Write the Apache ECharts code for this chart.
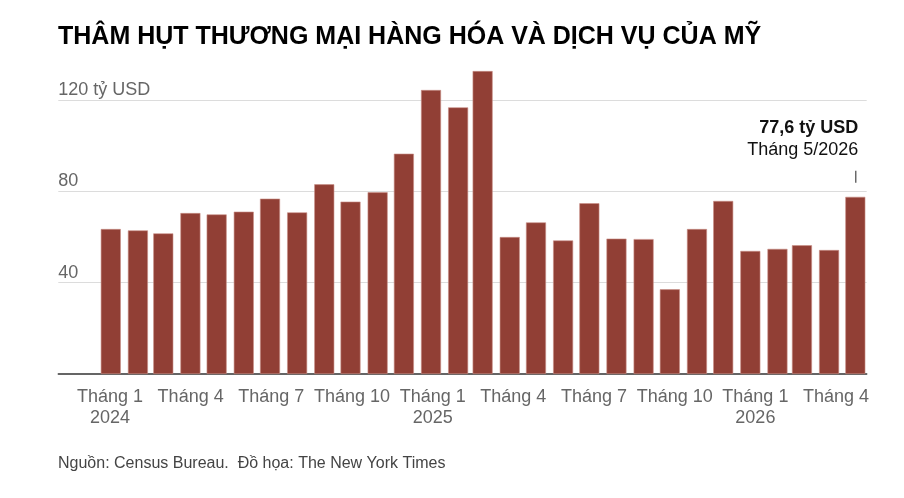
<!DOCTYPE html>
<html>
<head>
<meta charset="utf-8">
<script src="https://cdn.jsdelivr.net/npm/echarts@6/dist/echarts.min.js"></script>
<style>
html,body{margin:0;padding:0;background:#fff;}
#chart{width:904px;height:498px;}
</style>
</head>
<body>
<div id="chart"></div>
<script>
var titleText = 'THÂM HỤT THƯƠNG MẠI HÀNG HÓA VÀ DỊCH VỤ CỦA MỸ';
var sourceText = 'Nguồn: Census Bureau.  Đồ họa: The New York Times';

var months = [
  '2024-01-01','2024-02-01','2024-03-01','2024-04-01','2024-05-01','2024-06-01',
  '2024-07-01','2024-08-01','2024-09-01','2024-10-01','2024-11-01','2024-12-01',
  '2025-01-01','2025-02-01','2025-03-01','2025-04-01','2025-05-01','2025-06-01',
  '2025-07-01','2025-08-01','2025-09-01','2025-10-01','2025-11-01','2025-12-01',
  '2026-01-01','2026-02-01','2026-03-01','2026-04-01','2026-05-01'
];
var deficit = [
  63.5, 62.9, 61.6, 70.5, 69.9, 71.1, 76.8, 70.8, 83.1, 75.5, 79.6, 96.5,
  124.4, 116.8, 132.7, 60.0, 66.4, 58.5, 74.8, 59.3, 59.1, 37.1, 63.5, 75.8,
  53.9, 54.8, 56.4, 54.3, 77.6
];

var xTickLabels = ['Tháng 1\n2024','Tháng 4','Tháng 7','Tháng 10','Tháng 1\n2025',
                   'Tháng 4','Tháng 7','Tháng 10','Tháng 1\n2026','Tháng 4'];
var xTickPositions = [0,1,2,3,4,5,6,7,8,9];

var yTickValues = [40, 80, 120];
var yTickLabels = ['40', '80', '120 tỷ USD'];

var annotValue = '77,6 tỷ USD';
var annotDate = 'Tháng 5/2026';

var FONT = '"Liberation Sans", Arial, Helvetica, sans-serif';
var chart = echarts.init(document.getElementById('chart'), null, {renderer: 'canvas'});

var barData = months.map(function (m, i) {
  var item = {value: [m, deficit[i]]};
  if (i === months.length - 1) {
    item.label = {
      show: true,
      position: 'top',
      distance: 4,
      align: 'right',
      offset: [3, 0],
      formatter: '{b|' + annotValue + '}\n{n|' + annotDate + '}\n{t|}{s|}',
      rich: {
        b: {fontFamily: FONT, fontSize: 18, fontWeight: 'bold', color: '#111', lineHeight: 22, align: 'right'},
        n: {fontFamily: FONT, fontSize: 18, color: '#111', lineHeight: 22, align: 'right'},
        t: {width: 1, height: 12, lineHeight: 32, backgroundColor: '#222', align: 'right'},
        s: {width: 2, height: 12, lineHeight: 32, align: 'right'}
      }
    };
  }
  return item;
});

var option = {
  animation: false,
  backgroundColor: '#fff',
  title: [
    {
      text: titleText,
      left: 53, top: 20,
      textStyle: {fontFamily: FONT, fontSize: 25, fontWeight: 'bold', color: '#000'}
    },
    {
      text: sourceText,
      left: 53, top: 451,
      textStyle: {fontFamily: FONT, fontSize: 16, fontWeight: 'normal', color: '#444'}
    }
  ],
  grid: [
    // grid for bars: 10px wider on each side to absorb ECharts' bar overflow padding
    {left: 48.3, right: 27.3, top: 54.4, bottom: 124, containLabel: false},
    // grid for axes / gridlines
    {left: 58.3, right: 37.3, top: 54.4, bottom: 124, containLabel: false}
  ],
  xAxis: [
    {
      type: 'time',
      gridIndex: 0,
      min: '2023-11-02',
      max: '2026-05-14',
      show: false
    },
    {
      type: 'value',
      gridIndex: 1,
      min: -0.6405,
      max: 9.380,
      position: 'bottom',
      axisLine: {show: true, onZero: false, lineStyle: {color: '#333', width: 1.5}},
      axisTick: {show: false},
      splitLine: {show: false},
      axisLabel: {
        show: true,
        customValues: xTickPositions,
        showMinLabel: true, showMaxLabel: true,
        margin: 13,
        fontFamily: FONT, fontSize: 18, color: '#666', lineHeight: 21,
        align: 'center',
        formatter: function (v) {
          var idx = xTickPositions.indexOf(Math.round(v));
          return idx >= 0 ? xTickLabels[idx] : '';
        }
      }
    }
  ],
  yAxis: [
    {
      type: 'value',
      gridIndex: 0,
      min: 0, max: 140, interval: 40,
      show: false,
      splitLine: {show: false}
    },
    {
      type: 'value',
      gridIndex: 1,
      min: 0, max: 140, interval: 40,
      axisLine: {show: false},
      axisTick: {show: false},
      splitLine: {show: true, showMinLine: false, showMaxLine: false, lineStyle: {color: '#dcdcdc', width: 1}},
      axisLabel: {
        inside: true,
        margin: 0,
        verticalAlign: 'bottom',
        padding: [0, 0, 1, 0],
        fontFamily: FONT, fontSize: 18, color: '#666',
        showMinLabel: false, showMaxLabel: false,
        formatter: function (v) {
          var idx = yTickValues.indexOf(v);
          return idx >= 0 ? yTickLabels[idx] : '';
        }
      }
    }
  ],
  series: [
    {
      type: 'bar',
      xAxisIndex: 0,
      yAxisIndex: 0,
      barWidth: 20,
      itemStyle: {color: '#913f35', borderColor: '#c98f86', borderWidth: 0.6},
      data: barData
    }
  ]
};
chart.setOption(option);
</script>
</body>
</html>
